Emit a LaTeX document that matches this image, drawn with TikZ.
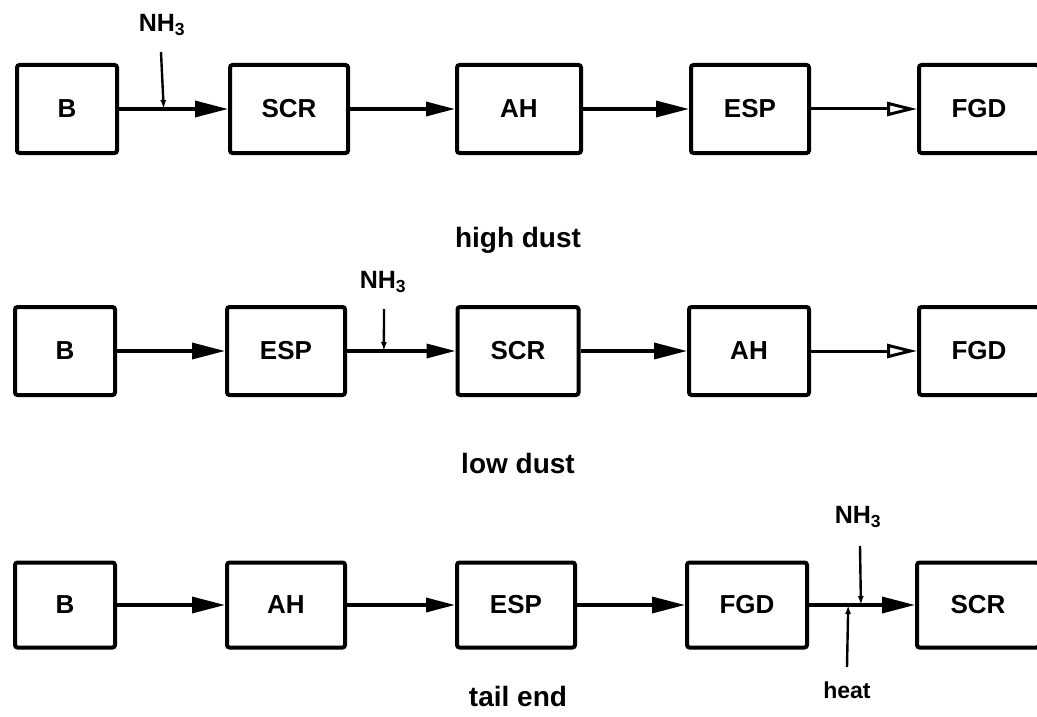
\documentclass[tikz,border=0pt]{standalone}
\usepackage{fontspec}
\setmainfont{Liberation Sans}
\usetikzlibrary{arrows.meta,calc}
\begin{document}
\begin{tikzpicture}[x=1pt,y=-1pt,
  unit/.style={draw,line width=4pt,rounded corners=2.5pt,minimum height=88pt,minimum width=118pt,inner sep=0pt,font=\fontsize{26}{30}\selectfont\bfseries},
  flow/.style={line width=3.4pt,-{Triangle[length=33pt,width=16pt]}},
  flowsmall/.style={line width=3.4pt,-{Triangle[length=29pt,width=14pt]}},
  flowopen/.style={line width=3pt,-{Triangle[open,length=30pt,width=14pt]}},
  feed/.style={line width=2.4pt,-{Latex[length=9pt,width=6pt]}},
  lbl/.style={font=\fontsize{28}{32}\selectfont\bfseries},
  small/.style={font=\fontsize{25}{28}\selectfont\bfseries},
  heatlbl/.style={font=\fontsize{23}{26}\selectfont\bfseries}]
\useasboundingbox (0,0) rectangle (1037,717);

% ---- row 1: high dust
\node[unit,minimum width=100pt] (b1) at (67,109) {B};
\node[unit] (s1) at (289,109) {SCR};
\node[unit,minimum width=124pt] (a1) at (519,109) {AH};
\node[unit] (e1) at (750,109) {ESP};
\node[unit,minimum width=120pt] (f1) at (979,109) {FGD};
\draw[flow] (b1.east) -- (s1.west);
\draw[flowsmall] (s1.east) -- (a1.west);
\draw[flow] (a1.east) -- (e1.west);
\draw[flowopen] (e1.east) -- (f1.west);
\node[small] (nh1) at (162,25) {NH\textsubscript{3}};
\coordinate (t1) at (161,52);
\coordinate (j1) at ($(b1.east)!0.41!(s1.west)$);
\draw[feed] (t1) -- (j1);
\node[lbl] (hd) at (518,240) {high dust};

% ---- row 2: low dust
\node[unit,minimum width=100pt] (b2) at (65,351) {B};
\node[unit] (e2) at (286,351) {ESP};
\node[unit,minimum width=121pt] (s2) at (518,351) {SCR};
\node[unit,minimum width=120pt] (a2) at (749,351) {AH};
\node[unit,minimum width=120pt] (f2) at (979,351) {FGD};
\draw[flow] (b2.east) -- (e2.west);
\draw[flowsmall] (e2.east) -- (s2.west);
\draw[flow] (s2.east) -- (a2.west);
\draw[flowopen] (a2.east) -- (f2.west);
\node[small] (nh2) at (383,282) {NH\textsubscript{3}};
\coordinate (t2) at (384,309);
\coordinate (j2) at ($(e2.east)!0.34!(s2.west)$);
\draw[feed] (t2) -- (j2);
\node[lbl] (ld) at (518,463) {low dust};

% ---- row 3: tail end
\node[unit,minimum width=100pt,minimum height=85pt] (b3) at (65,605) {B};
\node[unit,minimum height=85pt] (a3) at (286,605) {AH};
\node[unit,minimum height=85pt] (e3) at (516,605) {ESP};
\node[unit,minimum width=120pt,minimum height=85pt] (f3) at (747,605) {FGD};
\node[unit,minimum width=122pt,minimum height=85pt] (s3) at (978,605) {SCR};
\draw[flow] (b3.east) -- (a3.west);
\draw[flowsmall] (a3.east) -- (e3.west);
\draw[flow] (e3.east) -- (f3.west);
\draw[flow] (f3.east) -- (s3.west);
\node[small] (nh3) at (858,517) {NH\textsubscript{3}};
\coordinate (t3) at (860,546);
\coordinate (j3) at ($(f3.east)!0.49!(s3.west)$);
\draw[feed] (t3) -- (j3);
\node[heatlbl] (ht) at (847,690) {heat};
\coordinate (t4) at (847,667);
\coordinate (j4) at ($(f3.east)!0.37!(s3.west)$);
\draw[feed] (t4) -- (j4);
\node[lbl] (te) at (518,696) {tail end};
\end{tikzpicture}
\end{document}
